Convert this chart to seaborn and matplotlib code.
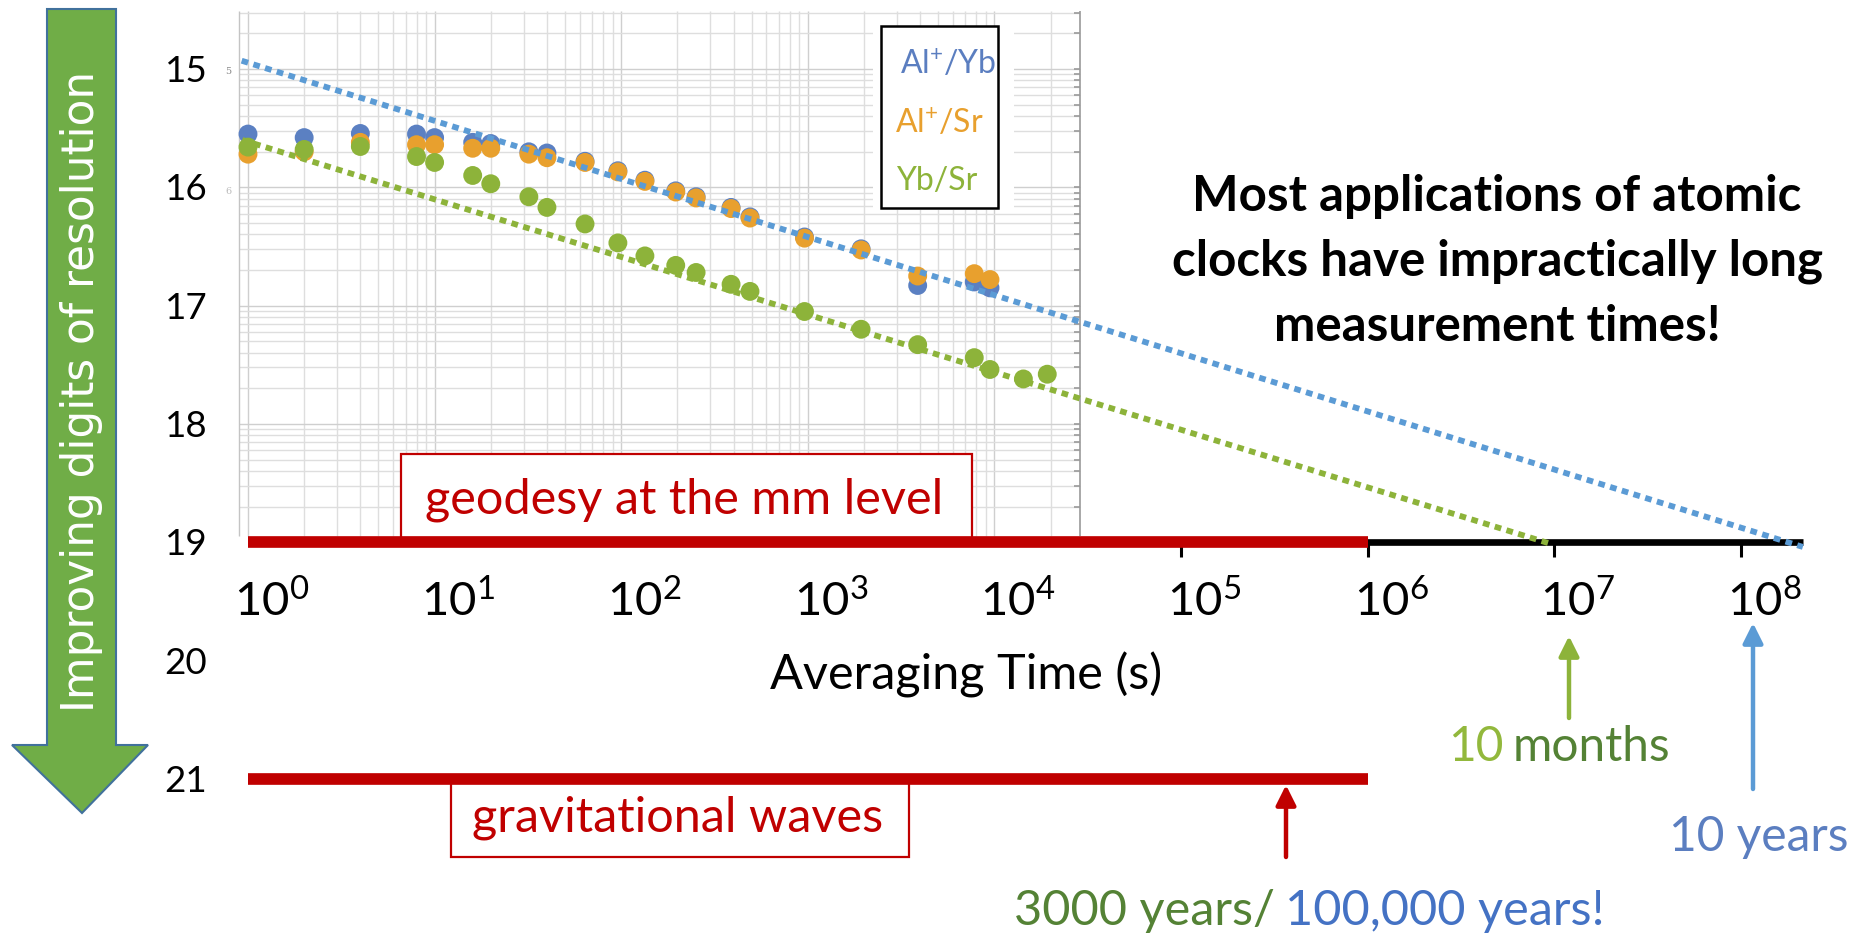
import numpy as np
import pandas as pd
import matplotlib
matplotlib.use("Agg")
import matplotlib.pyplot as plt
import matplotlib.transforms as mtransforms
from matplotlib.patches import Polygon, Rectangle
import seaborn as sns

# ------------------------------------------------------------------ data
pair_labels = ["Al$^{+}$/Yb", "Al$^{+}$/Sr", "Yb/Sr"]

tau_alyb = [1, 2, 4, 8, 10, 16, 20, 32, 40, 64, 96, 134, 196, 252, 388, 490,
            960, 1930, 3880, 7800, 9470]
digits_alyb = [15.55, 15.58, 15.545, 15.55, 15.58, 15.62, 15.63, 15.70, 15.71,
               15.78, 15.86, 15.94, 16.03, 16.08, 16.17, 16.25, 16.42, 16.52,
               16.83, 16.80, 16.85]

tau_alsr = [1, 2, 4, 8, 10, 16, 20, 32, 40, 64, 96, 134, 196, 252, 388, 490,
            960, 1930, 3880, 7800, 9470]
digits_alsr = [15.72, 15.70, 15.62, 15.64, 15.64, 15.67, 15.67, 15.72, 15.75,
               15.79, 15.87, 15.95, 16.04, 16.09, 16.18, 16.26, 16.43, 16.53,
               16.75, 16.73, 16.78]

tau_ybsr = [1, 2, 4, 8, 10, 16, 20, 32, 40, 64, 96, 134, 196, 252, 388, 490,
            960, 1930, 3880, 7800, 9470, 14300, 19200]
digits_ybsr = [15.66, 15.68, 15.655, 15.74, 15.79, 15.90, 15.97, 16.08, 16.17,
               16.31, 16.47, 16.58, 16.66, 16.72, 16.82, 16.88, 17.05, 17.20,
               17.33, 17.44, 17.54, 17.62, 17.58]

fit_labels = ["fit Al+/Yb", "fit Yb/Sr"]
fit_tau_alyb = [0.925, 2.15e8]
fit_digits_alyb = [14.93, 19.04]
fit_tau_ybsr = [0.932, 9.86e6]
fit_digits_ybsr = [15.60, 19.02]

digit_ticks = [15, 16, 17, 18, 19, 20, 21]
decades = [0, 1, 2, 3, 4, 5, 6, 7, 8]
axis_tick_decades = [5, 6, 7, 8]
axis_span = [1, 2.15e8]
geodesy_span = [1, 1e6]
geodesy_level = 19
gw_span = [1, 1e6]
gw_level = 21

# ------------------------------------------------------------------ style
sns.set_style("white")
plt.rcParams["font.family"] = ["Lato", "DejaVu Sans"]
plt.rcParams["mathtext.fontset"] = "custom"
plt.rcParams["mathtext.rm"] = "Lato"
plt.rcParams["mathtext.it"] = "Lato:italic"
plt.rcParams["mathtext.bf"] = "Lato:bold"

W, H = 1853, 935
X0, XD = 248.0, 186.6      # pixel of tau=1, pixels per decade
Y15, YD = 69.0, 118.3      # pixel of 15 digits, pixels per digit


def xdata(p):
    return 10 ** ((p - X0) / XD)


def ydata(q):
    return 15 + (q - Y15) / YD


fig = plt.figure(figsize=(W / 100, H / 100), dpi=100)
fig.patch.set_facecolor("white")
ax = fig.add_axes([0, 0, 1, 1])
ax.set_xscale("log")
ax.set_xlim(xdata(0), xdata(W))
ax.set_ylim(ydata(H), ydata(0))
ax.axis("off")
PIX = mtransforms.Affine2D().scale(1 / W, -1 / H).translate(0, 1) + fig.transFigure

RED = "#C00000"

# ------------------------------------------------------------------ inner chart grid
x_left, x_right = xdata(239.3), xdata(1080)
y_top, y_bot = ydata(11), ydata(536)
for n in range(0, 5):
    for k in range(1, 10):
        v = k * 10 ** n
        if v < x_right * 0.98:
            ax.vlines(v, y_top, y_bot, color="#cfcfcf" if k == 1 else "#dedede",
                      lw=1.0, zorder=1)
hy_major, hy_minor = [], []
for e in range(15, 20):
    for k in range(1, 10):
        d = e - np.log10(k)
        if y_top <= d <= y_bot:
            (hy_major if k == 1 else hy_minor).append(d)
ax.hlines(hy_minor, x_left, x_right, color="#dedede", lw=1.0, zorder=1)
ax.hlines(hy_major, x_left, x_right, color="#cfcfcf", lw=1.0, zorder=1)
ax.hlines(hy_minor + hy_major, x_right * 10 ** (-6 / XD), x_right,
          color="#9a9a9a", lw=1.2, zorder=1.5)
ax.vlines(x_right, y_top, y_bot, color="#9a9a9a", lw=1.2, zorder=1.5)
ax.vlines(x_left, y_top, y_bot, color="#c4c4c4", lw=1.0, zorder=1.5)
ax.text(228, 72, "5", transform=PIX, fontsize=7, color="#888888",
        family="DejaVu Serif", ha="center", va="center")
ax.text(228, 192, "6", transform=PIX, fontsize=7, color="#bbbbbb",
        family="DejaVu Serif", ha="center", va="center")

# ------------------------------------------------------------------ data points
df = pd.DataFrame({
    "tau": tau_alyb + tau_alsr + tau_ybsr,
    "digits": digits_alyb + digits_alsr + digits_ybsr,
    "pair": [pair_labels[0]] * len(tau_alyb) + [pair_labels[1]] * len(tau_alsr)
            + [pair_labels[2]] * len(tau_ybsr),
})
point_colors = ["#5B80C2", "#E8A02E", "#8DB33A"]
sns.scatterplot(data=df, x="tau", y="digits", hue="pair",
                palette=dict(zip(pair_labels, point_colors)), s=185,
                linewidth=0, legend=False, ax=ax, zorder=3)

fit_df = pd.DataFrame({
    "tau": fit_tau_alyb + fit_tau_ybsr,
    "digits": fit_digits_alyb + fit_digits_ybsr,
    "fit": [fit_labels[0]] * 2 + [fit_labels[1]] * 2,
})
n_before = len(ax.lines)
sns.lineplot(data=fit_df, x="tau", y="digits", hue="fit",
             palette=dict(zip(fit_labels, ["#5B9BD5", "#8DB33A"])),
             lw=4.2, legend=False, ax=ax, zorder=7, sort=False, estimator=None)
for ln in ax.lines[n_before:]:
    ln.set_dashes([1.15, 0.95])
    ln.set_dash_capstyle("butt")

# ------------------------------------------------------------------ legend box
ax.add_patch(Rectangle((873, 26), 141, 184, transform=PIX, facecolor="white",
                       edgecolor="none", zorder=2))
ax.add_patch(Rectangle((880.7, 26), 117.6, 182.3, transform=PIX, facecolor="white",
                       edgecolor="black", lw=1.8, zorder=8))
for lab, col, lx, by in zip(pair_labels, ["#5B7EC0", "#E8A02E", "#8DB33A"],
                            [900, 895, 896], [74, 133, 190]):
    ax.text(lx, by, lab, transform=PIX, color=col, fontsize=23, ha="left",
            va="baseline", zorder=9)

# ------------------------------------------------------------------ x axis & bars
ax.plot(axis_span, [geodesy_level] * 2, color="black", lw=4.8,
        solid_capstyle="butt", zorder=5)
ax.vlines([10.0 ** d for d in axis_tick_decades], geodesy_level, ydata(557),
          color="black", lw=2.2, zorder=5)
ax.plot(geodesy_span, [geodesy_level] * 2, color=RED, lw=8.4,
        solid_capstyle="butt", zorder=6)
ax.plot(gw_span, [gw_level] * 2, color=RED, lw=8.4,
        solid_capstyle="butt", zorder=6)

for n in decades:
    ax.text(10 ** n * 10 ** (-14 / XD), ydata(616), r"$\mathrm{10^{%d}}$" % n,
            ha="left", va="baseline", fontsize=34, color="black", zorder=9)
for d in digit_ticks:
    ax.text(xdata(186), d + 13 / YD, str(d), ha="center", va="baseline",
            fontsize=26.5, color="black", zorder=9)
ax.text(966, 689, "Averaging Time (s)", transform=PIX, ha="center",
        va="baseline", fontsize=35, color="black")

# ------------------------------------------------------------------ red boxes
ax.add_patch(Rectangle((401, 454), 571, 84, transform=PIX, facecolor="white",
                       edgecolor=RED, lw=1.6, zorder=4))
ax.text(684, 514, "geodesy at the mm level", transform=PIX, ha="center",
        va="baseline", fontsize=35, color=RED, zorder=5)
ax.add_patch(Rectangle((451, 780), 458, 77, transform=PIX, facecolor="white",
                       edgecolor=RED, lw=1.6, zorder=4))
ax.text(678, 832, "gravitational waves", transform=PIX, ha="center",
        va="baseline", fontsize=35, color=RED, zorder=5)

# ------------------------------------------------------------------ big green arrow
arrow_pts = [(47, 9), (116, 9), (116, 745), (148, 745), (82, 813), (12, 745),
             (47, 745)]
ax.add_patch(Polygon(arrow_pts, closed=True, transform=PIX, facecolor="#70AD47",
                     edgecolor="#41719C", lw=1.5, zorder=2))
ax.text(82, 391, "Improving digits of resolution", transform=PIX, rotation=90,
        ha="center", va="center", fontsize=31.5, color="white",
        family="DejaVu Sans", zorder=3)

# ------------------------------------------------------------------ title
for txt, by in zip(["Most applications of atomic",
                    "clocks have impractically long",
                    "measurement times!"], [211, 276, 341]):
    ax.text(1497, by, txt, transform=PIX, ha="center", va="baseline",
            fontsize=35.5, fontweight="bold", color="black")

# ------------------------------------------------------------------ small arrows
def up_arrow(x, y0, y1, col):
    ax.annotate("", xy=(x, y1), xytext=(x, y0), xycoords=PIX, textcoords=PIX,
                arrowprops=dict(arrowstyle="-|>,head_length=1.2,head_width=0.6",
                                color=col, lw=3.2, shrinkA=0, shrinkB=0))


up_arrow(1286, 857, 785, RED)
up_arrow(1569, 718, 636, "#8DB33A")
up_arrow(1753, 789, 623, "#5B9BD5")

# ------------------------------------------------------------------ annotations
t1 = ax.text(1448, 761, "10", transform=PIX, ha="left", va="baseline",
             fontsize=34.5, color="#92B83C")
ax.annotate("months", xy=(1, 0), xycoords=t1, xytext=(7, 0),
            textcoords="offset points", ha="left", va="bottom", fontsize=34.5,
            color="#548235")
ax.text(1669, 851, "10 years", transform=PIX, ha="left", va="baseline",
        fontsize=34.5, color="#5B7EC0")
t2 = ax.text(1014, 925, "3000 years/", transform=PIX, ha="left", va="baseline",
             fontsize=35, color="#548235")
ax.annotate("100,000 years!", xy=(1, 0), xycoords=t2, xytext=(7, 0),
            textcoords="offset points", ha="left", va="bottom", fontsize=35,
            color="#4472C4")

fig.savefig("out.png", dpi=100, facecolor="white")
